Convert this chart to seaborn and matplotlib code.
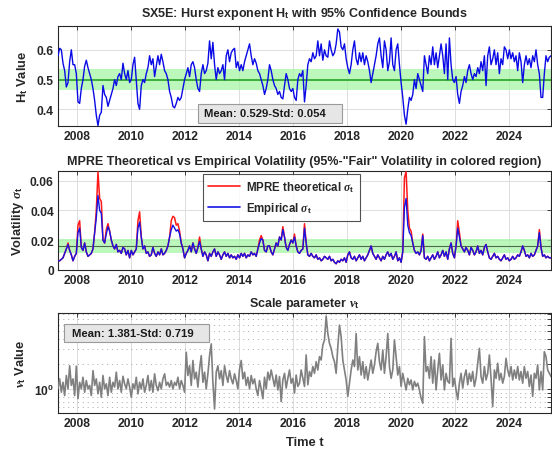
import numpy as np
import pandas as pd
import matplotlib
matplotlib.use("Agg")
import matplotlib.pyplot as plt
import seaborn as sns
from matplotlib.ticker import FixedLocator, LogLocator, NullFormatter
from matplotlib.lines import Line2D
from matplotlib.patches import Rectangle

# ---------------- data (~3-week sampling) ----------------
t_start, t_end = 2007.29, 2025.56

hurst_a = [0.58, 0.605, 0.60, 0.555, 0.53, 0.475, 0.49, 0.56, 0.60, 0.55,
           0.55, 0.52, 0.425, 0.42, 0.47, 0.50, 0.545, 0.565, 0.54, 0.52,
           0.50, 0.47, 0.43, 0.38, 0.345, 0.38, 0.39, 0.48, 0.45, 0.44,
           0.41, 0.43, 0.45, 0.47, 0.50, 0.48, 0.51, 0.52, 0.50, 0.555,
           0.52, 0.50, 0.53, 0.49, 0.50, 0.55, 0.575, 0.50, 0.42, 0.40,
           0.48, 0.50, 0.49, 0.52, 0.54, 0.58, 0.55, 0.57, 0.51, 0.545,
           0.58, 0.55, 0.585, 0.56, 0.53, 0.52, 0.50, 0.46, 0.44, 0.41,
           0.405, 0.42, 0.44, 0.43, 0.44, 0.47, 0.50, 0.52, 0.54, 0.51,
           0.55, 0.56, 0.54, 0.50, 0.47, 0.46, 0.52, 0.55, 0.52, 0.53,
           0.555, 0.63, 0.57, 0.625, 0.55, 0.50, 0.54, 0.52, 0.53, 0.55,
           0.50, 0.58, 0.60, 0.56, 0.59, 0.60, 0.605, 0.54, 0.56, 0.53,
           0.55, 0.53, 0.56, 0.58, 0.60, 0.62, 0.58, 0.55, 0.57, 0.555,
           0.53, 0.52, 0.50, 0.48, 0.45, 0.47, 0.50]
hurst_b = [0.55, 0.53, 0.50, 0.48, 0.47, 0.45, 0.46, 0.44, 0.435, 0.48,
           0.52, 0.50, 0.47, 0.46, 0.47, 0.44, 0.43, 0.50, 0.52, 0.51,
           0.53, 0.425, 0.48, 0.55, 0.57, 0.56, 0.59, 0.57, 0.58, 0.63,
           0.58, 0.62, 0.565, 0.60, 0.58, 0.575, 0.63, 0.60, 0.58, 0.59,
           0.62, 0.67, 0.66, 0.61, 0.60, 0.62, 0.57, 0.54, 0.52, 0.55,
           0.60, 0.63, 0.57, 0.55, 0.59, 0.56, 0.59, 0.55, 0.58, 0.56,
           0.53, 0.49, 0.52, 0.55, 0.58, 0.62, 0.64, 0.58, 0.54, 0.63,
           0.60, 0.53, 0.56, 0.64, 0.55, 0.53, 0.60, 0.62, 0.55, 0.49,
           0.44, 0.38, 0.35, 0.40, 0.44, 0.43, 0.45, 0.50, 0.47, 0.52,
           0.50, 0.48, 0.46, 0.58, 0.55, 0.52, 0.58, 0.55, 0.61, 0.55,
           0.59, 0.54, 0.58, 0.62, 0.58, 0.52, 0.62, 0.50, 0.64, 0.55,
           0.50, 0.49, 0.51, 0.45, 0.42, 0.46, 0.48, 0.51, 0.49, 0.53,
           0.55, 0.52, 0.50, 0.52, 0.51, 0.54, 0.52, 0.56, 0.53, 0.58,
           0.48, 0.58, 0.61, 0.55, 0.57, 0.60, 0.55, 0.59, 0.52, 0.57,
           0.55, 0.61, 0.60, 0.57, 0.60, 0.57, 0.59, 0.56, 0.58, 0.53,
           0.59, 0.56, 0.49, 0.55, 0.58, 0.55, 0.57, 0.54, 0.58, 0.56,
           0.60, 0.55, 0.52, 0.44, 0.44, 0.52, 0.58, 0.56, 0.575, 0.58]

emp_vol_a = [.006, .006, .007, .008, .011, .014, .017, .013, .010, .006,
             .009, .011, .025, .028, .015, .013, .018, .012, .009, .010,
             .011, .014, .025, .035, .050, .040, .038, .020, .018, .024,
             .029, .026, .020, .016, .014, .017, .012, .013, .011, .015,
             .014, .010, .013, .008, .013, .010, .012, .014, .028, .032,
             .022, .014, .016, .011, .012, .009, .010, .015, .011, .009,
             .012, .010, .014, .010, .011, .013, .016, .022, .027, .030,
             .028, .026, .027, .024, .018, .014, .008, .011, .013, .016,
             .012, .018, .014, .011, .015, .019, .014, .009, .012, .010,
             .006, .011, .009, .012, .014, .009, .012, .010, .007, .010,
             .012, .009, .011, .008, .010, .008, .009, .007, .010, .008,
             .011, .009, .011, .008, .010, .009, .012, .010, .011, .009,
             .014, .018, .021, .020, .013, .012, .016]
emp_vol_b = [.016, .012, .010, .014, .018, .016, .022, .020, .027, .022,
             .015, .013, .017, .020, .018, .022, .016, .012, .011, .013,
             .014, .028, .018, .010, .009, .011, .009, .008, .010, .007,
             .008, .006, .007, .009, .008, .007, .009, .006, .007, .005,
             .004, .006, .005, .007, .006, .008, .005, .010, .012, .008,
             .007, .009, .006, .008, .010, .007, .009, .006, .008, .010,
             .013, .016, .011, .009, .007, .010, .008, .006, .009, .007,
             .010, .012, .009, .011, .007, .009, .012, .006, .008, .005,
             .012, .042, .048, .030, .025, .023, .018, .013, .011, .012,
             .010, .013, .023, .008, .007, .009, .006, .008, .010, .007,
             .009, .012, .008, .010, .013, .009, .012, .007, .014, .018,
             .011, .008, .016, .028, .022, .016, .014, .012, .015, .013,
             .010, .015, .013, .010, .012, .016, .011, .013, .010, .015,
             .017, .012, .008, .007, .009, .011, .008, .009, .007, .006,
             .008, .010, .007, .008, .006, .007, .009, .007, .008, .010,
             .009, .012, .016, .013, .009, .010, .008, .011, .009, .010,
             .013, .016, .025, .015, .009, .010, .008, .009, .008, .008]

# MPRE theoretical volatility: equal to empirical except where it visibly exceeds it
mpre_peak_index = [6, 12, 13, 23, 24, 25, 26, 29, 30, 48, 49, 68, 69, 70, 71, 72, 73,
                   85, 121, 122, 135, 142, 148, 208, 209, 210, 211, 212, 219, 240, 241, 289]
mpre_peak_value = [.018, .030, .033, .040, .066, .048, .046, .027, .031, .033, .039,
                   .033, .036, .035, .030, .031, .026, .022, .020, .023, .029, .024,
                   .031, .062, .066, .040, .028, .026, .024, .033, .025, .027]

nu_a = [1.0, 1.32, 0.91, 1.2, 0.83, 1.45, 1.0, 1.9, 1.1, 1.32,
        0.83, 1.88, 0.76, 1.2, 1.0, 1.38, 0.91, 1.26, 1.0, 1.1,
        0.83, 1.66, 1.1, 1.32, 0.87, 1.2, 0.79, 1.45, 1.0, 1.15,
        0.83, 1.38, 0.91, 1.2, 1.05, 1.59, 1.0, 1.26, 0.91, 1.42,
        1.15, 1.0, 1.32, 1.05, 0.79, 1.15, 1.0, 1.38, 0.87, 1.2,
        1.0, 1.32, 0.91, 1.1, 1.45, 0.95, 1.26, 0.91, 1.52, 1.1,
        0.95, 1.2, 1.0, 1.32, 1.52, 1.1, 1.2, 1.05, 1.26, 1.0,
        1.2, 1.1, 1.38, 1.0, 1.26, 1.1, 0.91, 2.77, 1.45, 1.9,
        1.1, 2.2, 1.32, 1.59, 1.05, 1.74, 2.52, 1.2, 1.59, 1.0,
        1.52, 2.52, 3.5, 1.2, 0.57, 1.59, 1.9, 1.32, 1.66, 1.1,
        1.9, 1.45, 1.2, 1.66, 1.32, 1.15, 1.52, 1.26, 1.0, 1.74,
        2.2, 1.32, 1.59, 1.1, 1.38, 1.0, 1.45, 1.15, 1.32, 1.0,
        0.83, 1.26, 1.0, 0.76, 1.38, 1.0, 1.59]
nu_b = [1.28, 1.69, 1.34, 1.07, 1.47, 0.97, 1.41, 0.70, 1.28, 1.54,
        1.02, 1.34, 1.69, 1.17, 1.34, 0.89, 1.47, 1.07, 1.17, 1.69,
        1.34, 1.07, 2.57, 1.12, 1.62, 1.41, 1.86, 1.54, 2.13, 1.69,
        2.45, 2.23, 3.39, 3.9, 7.6, 4.67, 3.55, 3.09, 2.45, 2.13,
        1.54, 3.24, 5.9, 4.27, 2.23, 1.69, 1.28, 0.81, 1.17, 1.69,
        2.23, 1.86, 4.67, 1.69, 2.45, 1.47, 2.13, 1.34, 1.86, 1.28,
        1.69, 2.23, 1.54, 1.95, 2.81, 3.55, 2.13, 1.69, 2.95, 1.54,
        2.45, 4.67, 1.86, 1.34, 1.69, 3.9, 2.45, 1.47, 1.86, 1.07,
        1.54, 1.23, 0.97, 1.34, 1.12, 1.28, 0.97, 1.23, 1.07, 1.17,
        0.97, 0.77, 0.67, 4.27, 1.62, 1.86, 1.34, 2.45, 1.17, 2.23,
        0.97, 1.69, 2.69, 1.28, 1.95, 0.97, 1.54, 1.23, 1.17, 4.08,
        1.07, 1.34, 0.97, 0.74, 1.17, 1.54, 1.02, 1.41, 1.69, 1.12,
        1.54, 1.23, 1.62, 1.07, 1.34, 2.04, 3.09, 1.41, 1.17, 1.86,
        1.28, 1.54, 2.57, 1.34, 0.61, 1.69, 1.34, 2.04, 1.28, 1.54,
        1.17, 1.41, 2.34, 1.69, 1.41, 1.86, 1.28, 1.69, 1.34, 1.86,
        1.28, 1.62, 1.17, 1.86, 1.34, 1.62, 1.07, 1.47, 0.81, 1.54,
        1.34, 1.95, 0.97, 1.62, 0.97, 2.81, 2.45, 1.69, 1.54, 1.41]

h_center, h_band_lo, h_band_hi = 0.5, 0.465, 0.537
vol_center, vol_band_lo, vol_band_hi = 0.0162, 0.011, 0.0207
h_stats = "Mean: 0.529-Std: 0.054"
nu_stats = "Mean: 1.381-Std: 0.719"
year_ticks = [2008, 2010, 2012, 2014, 2016, 2018, 2020, 2022, 2024]

# ---------------- build frame ----------------
hurst = np.array(hurst_a + hurst_b)
emp = np.array(emp_vol_a + emp_vol_b)
mpre = emp.copy()
mpre[mpre_peak_index] = mpre_peak_value
nu = np.array(nu_a + nu_b)
n = len(hurst)
df = pd.DataFrame({"t": np.linspace(t_start, t_end, n), "H": hurst,
                   "emp": emp, "mpre": mpre, "nu": nu})

# ---------------- style ----------------
sns.set_theme(style="white")
plt.rcParams["font.family"] = ["Liberation Sans", "DejaVu Sans"]
plt.rcParams["font.weight"] = "bold"
plt.rcParams["mathtext.fontset"] = "custom"
plt.rcParams["mathtext.rm"] = "Liberation Sans:bold"
plt.rcParams["mathtext.bf"] = "Liberation Sans:bold"
plt.rcParams["mathtext.it"] = "Liberation Serif:italic"
plt.rcParams["mathtext.default"] = "it"

TICK_FS = 8.7
TITLE_FS = 9.0
LABEL_FS = 9.3
BOX_FS = 8.1

fig = plt.figure(figsize=(5.52, 4.52), dpi=100)
W, H = 552.0, 452.0
def ax_rect(l, r, top, bot):
    return [l / W, 1 - bot / H, (r - l) / W, (bot - top) / H]

ax1 = fig.add_axes(ax_rect(58, 551, 27, 127))
ax2 = fig.add_axes(ax_rect(58, 551, 171.7, 270.7))
ax3 = fig.add_axes(ax_rect(58, 551, 314.3, 414))

def common(ax):
    ax.set_xlim(t_start, t_end)
    ax.xaxis.set_major_locator(FixedLocator(year_ticks))
    ax.set_xticklabels([str(y) for y in year_ticks])
    ax.tick_params(axis="both", which="both", direction="in", top=True, right=True,
                   labelsize=TICK_FS, length=3, width=0.6, pad=3, colors="#262626")
    for lab in ax.get_xticklabels() + ax.get_yticklabels():
        lab.set_fontweight("bold")
    for s in ax.spines.values():
        s.set_color("#262626")
        s.set_linewidth(0.8)
    ax.grid(True, which="major", color="#dcdcdc", lw=0.7, ls="-")
    ax.set_axisbelow(True)
    ax.set_xlabel("")

def stat_box(ax, x0, x1, y0, y1, tx, text):
    ax.add_patch(Rectangle((x0, y0), x1 - x0, y1 - y0, transform=ax.transAxes,
                           fc="#e6e6e6", ec="#9a9a9a", lw=0.8, zorder=5))
    ax.text(tx, (y0 + y1) / 2, text, transform=ax.transAxes, fontsize=BOX_FS,
            fontweight="bold", va="center", ha="left", zorder=6, color="#1a1a1a")

# --- top: Hurst exponent ---
ax1.axhspan(h_band_lo, h_band_hi, color="#a6f5a6", alpha=0.75, lw=0, zorder=1)
ax1.axhline(h_center, color="#1a9e1a", lw=1.1, zorder=2)
sns.lineplot(data=df, x="t", y="H", ax=ax1, color="#0a0ae6", lw=1.0, zorder=3)
ax1.set_ylim(0.344, 0.68)
ax1.yaxis.set_major_locator(FixedLocator([0.4, 0.5, 0.6]))
ax1.set_yticklabels(["0.4", "0.5", "0.6"])
common(ax1)
ax1.set_ylabel(r"H$_\mathrm{t}$ Value", fontsize=LABEL_FS, fontweight="bold", labelpad=5)
ax1.set_title(r"SX5E: Hurst exponent H$_\mathrm{t}$ with 95% Confidence Bounds",
              fontsize=TITLE_FS, fontweight="bold", pad=7)
stat_box(ax1, 0.284, 0.576, 0.03, 0.22, 0.296, h_stats)

# --- middle: volatility ---
ax2.axhspan(vol_band_lo, vol_band_hi, color="#a6f5a6", alpha=0.75, lw=0, zorder=1)
ax2.axhline(vol_center, color="#4f6b4f", lw=0.8, zorder=2)
sns.lineplot(data=df, x="t", y="mpre", ax=ax2, color="#ff1a1a", lw=1.1, zorder=3)
sns.lineplot(data=df, x="t", y="emp", ax=ax2, color="#1414e6", lw=1.0, zorder=4)
ax2.set_ylim(0, 0.0667)
ax2.yaxis.set_major_locator(FixedLocator([0, 0.02, 0.04, 0.06]))
ax2.set_yticklabels(["0", "0.02", "0.04", "0.06"])
common(ax2)
ax2.set_ylabel(r"Volatility $\sigma_\mathrm{t}$", fontsize=LABEL_FS, fontweight="bold", labelpad=3)
ax2.set_title('MPRE Theoretical vs Empirical Volatility (95%-"Fair" Volatility in colored region)',
              fontsize=TITLE_FS, fontweight="bold", pad=5)
handles = [Line2D([], [], color="#ff1a1a", lw=1.2), Line2D([], [], color="#1414e6", lw=1.2)]
leg = ax2.legend(handles, [r"MPRE theoretical $\sigma_\mathrm{t}$", r"Empirical $\sigma_\mathrm{t}$"],
                 loc="upper left", bbox_to_anchor=(0.294, 0.968), fontsize=8.3,
                 frameon=True, fancybox=False, handlelength=2.8, borderpad=0.45,
                 labelspacing=0.55, handletextpad=0.5, borderaxespad=0)
leg.get_frame().set_edgecolor("#262626")
leg.get_frame().set_linewidth(0.8)
for txt in leg.get_texts():
    txt.set_fontweight("bold")
leg.set_zorder(6)

# --- bottom: scale parameter ---
sns.lineplot(data=df, x="t", y="nu", ax=ax3, color="#808080", lw=1.2, zorder=3)
ax3.set_yscale("log")
ax3.set_ylim(0.51, 8.2)
ax3.yaxis.set_major_locator(LogLocator(base=10))
ax3.yaxis.set_minor_locator(LogLocator(base=10, subs=np.arange(2, 10)))
ax3.yaxis.set_minor_formatter(NullFormatter())
common(ax3)
ax3.grid(True, which="minor", axis="y", color="#a8a8a8", lw=0.7, ls=(0, (1, 4)))
ax3.set_ylabel(r"$\nu_\mathrm{t}$ Value", fontsize=LABEL_FS, fontweight="bold", labelpad=4)
ax3.set_xlabel("Time t", fontsize=LABEL_FS, fontweight="bold", labelpad=5)
ax3.set_title(r"Scale parameter $\nu_\mathrm{t}$", fontsize=TITLE_FS, fontweight="bold", pad=5)
stat_box(ax3, 0.012, 0.306, 0.715, 0.893, 0.028, nu_stats)

fig.savefig("out.png", dpi=100)
